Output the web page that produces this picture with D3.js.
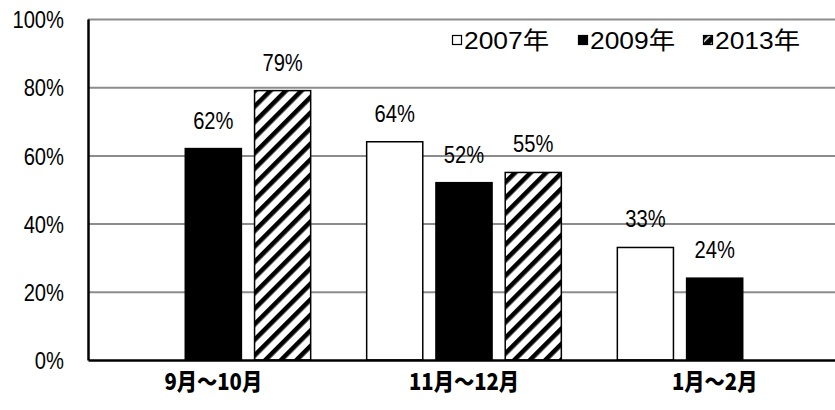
<!DOCTYPE html>
<html>
<head>
<meta charset="utf-8">
<script src="https://cdn.jsdelivr.net/npm/d3@7/dist/d3.min.js"></script>
<style>
  html, body { margin: 0; padding: 0; background: #fff; }
  svg { display: block; }
  .num { font-family: "Liberation Sans", "Noto Sans CJK JP", sans-serif; font-size: 24px; fill: #000; }
  .cat { font-family: "Noto Sans CJK JP", sans-serif; font-weight: 900; font-size: 23px; fill: #000; }
</style>
</head>
<body>
<svg id="chart" width="835" height="410"></svg>
<script>
// Periods on the x axis
const categories = ["9月～10月", "11月～12月", "1月～2月"];
// Survey years (series)
const years = ["2007年", "2009年", "2013年"];
// Share per period, one array per year (null = no bar)
const values2007 = [null, 64, 33];
const values2009 = [62, 52, 24];
const values2013 = [79, 55, null];
// Y axis ticks (percent)
const yTicks = [0, 20, 40, 60, 80, 100];

const seriesValues = [values2007, values2009, values2013];

const svg = d3.select("#chart");
const margin = { left: 88, right: -5, top: 19, bottom: 50 };
const W = 835, H = 410;

const x0 = d3.scaleBand().domain(categories)
  .range([margin.left, W - margin.right]).paddingInner(0).paddingOuter(0);
const x1 = d3.scaleBand().domain(years)
  .range([28, x0.bandwidth() - 28]).paddingInner(0.19).paddingOuter(0);
const y = d3.scaleLinear().domain([0, 100]).range([H - margin.bottom, margin.top]);

// Squeeze a text horizontally to a condensed look
function condense(sel, k) {
  sel.each(function () {
    const w = this.getComputedTextLength();
    d3.select(this).attr("textLength", w * k).attr("lengthAdjust", "spacingAndGlyphs");
  });
}

// Fill patterns
const defs = svg.append("defs");
defs.append("pattern").attr("id", "hatch")
  .attr("patternUnits", "userSpaceOnUse").attr("width", 11).attr("height", 11)
  .attr("patternTransform", "rotate(45)")
  .call(p => {
    p.append("rect").attr("width", 11).attr("height", 11).attr("fill", "#fff");
    p.append("rect").attr("width", 4.6).attr("height", 11).attr("fill", "#000");
  });
defs.append("pattern").attr("id", "hatchSmall")
  .attr("patternUnits", "userSpaceOnUse").attr("width", 7).attr("height", 7)
  .attr("patternTransform", "rotate(45)")
  .call(p => {
    p.append("rect").attr("width", 7).attr("height", 7).attr("fill", "#000");
    p.append("rect").attr("x", 4.5).attr("width", 1.6).attr("height", 7).attr("fill", "#fff");
  });

const fills = { "2007年": "#fff", "2009年": "#000", "2013年": "url(#hatch)" };
const legendFills = { "2007年": "#fff", "2009年": "#000", "2013年": "url(#hatchSmall)" };

// Gridlines
const grid = svg.append("g")
  .attr("transform", `translate(${margin.left},0)`)
  .call(d3.axisLeft(y).tickValues(yTicks.filter(t => t > 0))
    .tickSize(-(W - margin.left)).tickFormat(""));
grid.select(".domain").remove();
grid.selectAll(".tick line").attr("stroke", "#8c8c8c").attr("stroke-width", 2);

// Bars
const rows = [];
categories.forEach((c, i) => years.forEach((yr, j) => {
  const v = seriesValues[j][i];
  if (v != null) rows.push({ c, yr, v });
}));

const bars = svg.append("g");
bars.selectAll("rect").data(rows).join("rect")
  .attr("x", d => x0(d.c) + x1(d.yr))
  .attr("y", d => y(d.v))
  .attr("width", x1.bandwidth())
  .attr("height", d => y(0) - y(d.v))
  .attr("fill", d => fills[d.yr])
  .attr("stroke", "#000").attr("stroke-width", 1.5);

// Value labels
svg.append("g").selectAll("text").data(rows).join("text")
  .attr("class", "num")
  .attr("x", d => x0(d.c) + x1(d.yr) + x1.bandwidth() / 2)
  .attr("y", d => y(d.v) - 20)
  .attr("text-anchor", "middle")
  .text(d => d.v + "%")
  .call(condense, 0.84);

// Y axis
const yAxis = svg.append("g")
  .attr("transform", `translate(${margin.left},0)`)
  .call(d3.axisLeft(y).tickValues(yTicks).tickSize(0).tickPadding(24)
    .tickFormat(d => d + "%"));
yAxis.select(".domain").attr("stroke", "#000").attr("stroke-width", 2.5);
yAxis.selectAll("text").attr("class", "num").attr("font-family", null).attr("font-size", null)
  .attr("fill", null).attr("dy", "0.36em")
  .call(condense, 0.84);

// X axis
const xAxis = svg.append("g")
  .attr("transform", `translate(0,${y(0)})`)
  .call(d3.axisBottom(x0).tickSize(0).tickPadding(17));
xAxis.select(".domain").attr("stroke", "#000").attr("stroke-width", 2.5);
xAxis.selectAll("text").attr("class", "cat").attr("font-family", null).attr("font-size", null)
  .attr("fill", null).attr("dy", "0.55em")
  .call(condense, 0.88);

// Legend
const legendX = [452, 578, 703];
const legend = svg.append("g");
years.forEach((yr, i) => {
  const g = legend.append("g").attr("transform", `translate(${legendX[i]},35)`);
  g.append("rect").attr("x", 0.5).attr("y", 0.5).attr("width", 9).attr("height", 9)
    .attr("fill", legendFills[yr]).attr("stroke", "#000").attr("stroke-width", 1.2);
  g.append("text").attr("class", "num").attr("x", 12).attr("y", 5).attr("dy", "0.36em")
    .text(yr)
    .call(condense, 1.1);
});
</script>
</body>
</html>
